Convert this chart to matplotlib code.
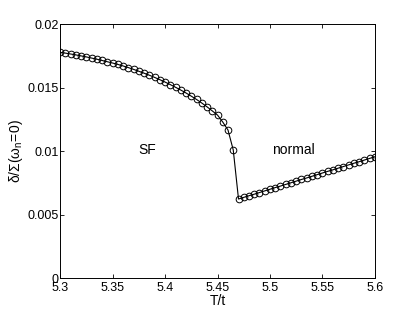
import numpy as np
import matplotlib.pyplot as plt

# superfluid branch
T_sf = [5.300, 5.305, 5.310, 5.315, 5.320, 5.325, 5.330, 5.335, 5.340, 5.345,
        5.350, 5.355, 5.360, 5.365, 5.370, 5.375, 5.380, 5.385, 5.390, 5.395,
        5.400, 5.405, 5.410, 5.415, 5.420, 5.425, 5.430, 5.435, 5.440, 5.445,
        5.450, 5.455, 5.460, 5.465]
d_sf = [0.01777, 0.01771, 0.01764, 0.01757, 0.01749, 0.01741, 0.01732, 0.01723, 0.01713, 0.01703,
        0.01693, 0.01682, 0.01670, 0.01657, 0.01643, 0.01628, 0.01613, 0.01597, 0.01580, 0.01562,
        0.01543, 0.01523, 0.01502, 0.01480, 0.01457, 0.01432, 0.01406, 0.01378, 0.01348, 0.01316,
        0.01283, 0.01228, 0.01165, 0.01008]

# normal branch
T_n = [5.470, 5.475, 5.480, 5.485, 5.490, 5.495, 5.500, 5.505, 5.510, 5.515,
       5.520, 5.525, 5.530, 5.535, 5.540, 5.545, 5.550, 5.555, 5.560, 5.565,
       5.570, 5.575, 5.580, 5.585, 5.590, 5.595, 5.600]
d_n = [0.00622, 0.00635, 0.00648, 0.00660, 0.00673, 0.00686, 0.00699, 0.00712, 0.00724, 0.00737,
       0.00750, 0.00763, 0.00776, 0.00788, 0.00801, 0.00814, 0.00827, 0.00840, 0.00852, 0.00865,
       0.00878, 0.00891, 0.00904, 0.00916, 0.00929, 0.00942, 0.00955]

xticks = [5.3, 5.35, 5.4, 5.45, 5.5, 5.55, 5.6]
xticklabels = ['5.3', '5.35', '5.4', '5.45', '5.5', '5.55', '5.6']
yticks = [0, 0.005, 0.01, 0.015, 0.02]
yticklabels = ['0', '0.005', '0.01', '0.015', '0.02']


def main():
    plt.rcParams['font.family'] = ['Liberation Sans', 'DejaVu Sans']
    plt.rcParams['mathtext.fontset'] = 'custom'
    plt.rcParams['mathtext.rm'] = 'Liberation Sans'
    plt.rcParams['mathtext.it'] = 'Liberation Sans'

    fig = plt.figure(figsize=(4.15, 3.13), dpi=100)
    ax = fig.add_axes([0.1446, 0.1118, 0.759, 0.8115])

    T = T_sf + T_n
    d = d_sf + d_n
    ax.plot(T, d, '-', color='black', lw=0.8,
            marker='o', mfc='none', mec='black', ms=4.8, mew=0.7)

    ax.set_xlim(5.3, 5.6)
    ax.set_ylim(0, 0.02)
    ax.set_xticks(xticks)
    ax.set_xticklabels(xticklabels)
    ax.set_yticks(yticks)
    ax.set_yticklabels(yticklabels)
    ax.tick_params(direction='in', top=True, right=True, length=3,
                   width=0.6, labelsize=9)
    ax.tick_params(axis='x', pad=3)
    ax.tick_params(axis='y', pad=1)
    for s in ax.spines.values():
        s.set_linewidth(0.7)

    ax.text(5.3835, 0.0101, 'SF', fontsize=10, ha='center', va='center')
    ax.text(5.522, 0.0101, 'normal', fontsize=10, ha='center', va='center')

    ax.set_xlabel('T/t', fontsize=10, labelpad=0)
    ax.set_ylabel(r'$\delta/\Sigma(\omega_n\!=\!0)$', fontsize=10, labelpad=2)

    plt.savefig('out.png', dpi=100)


if __name__ == '__main__':
    main()
